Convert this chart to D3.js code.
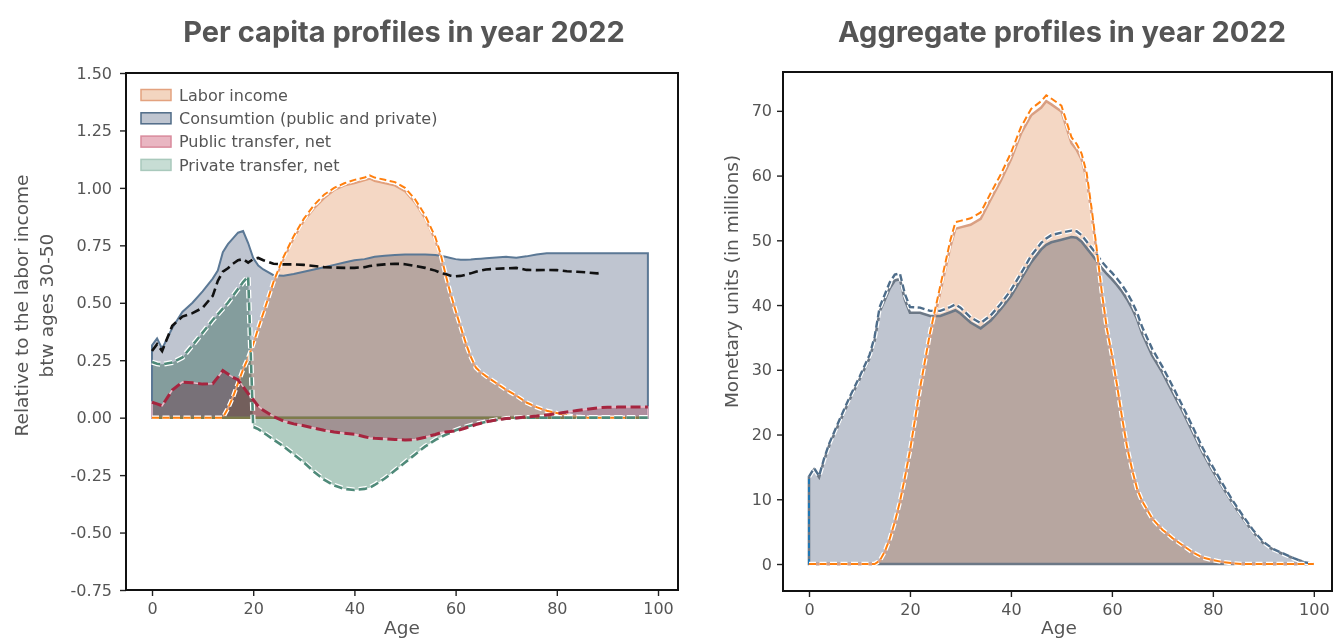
<!DOCTYPE html>
<html>
<head>
<meta charset="utf-8">
<script src="https://cdn.jsdelivr.net/npm/d3@7"></script>
<style>
  body { margin: 0; background: #fff; }
  svg { display: block; }
  .tick text { font-family: "DejaVu Sans", sans-serif; font-size: 16px; fill: #555; }
  .tick line { stroke: #222; stroke-width: 1.4; }
  .lbl { font-family: "DejaVu Sans", sans-serif; font-size: 18.5px; fill: #555; }
  .ttl { font-family: Inter, "DejaVu Sans", sans-serif; font-weight: 700; font-size: 29px; fill: #555; }
  .leg { font-family: "DejaVu Sans", sans-serif; font-size: 16px; fill: #555; }
  .fill { mix-blend-mode: multiply; }
</style>
</head>
<body>
<svg id="chart" width="1333" height="639"></svg>
<script>
// ---------- Per capita profiles (relative to labor income at ages 30-50) ----------
const agesPC = [0,1,2,4,6,8,10,12,13,14, 15,16,17,18,19,20,21,22, 24,26,28,30,32,34,36,38,40,42, 43,
  44,46,48,50,52,54,56, 57,58,59,60,61,62,63,64,65,66, 68,70,72,74,76,78,80,82,84,86,88, 89, 90,92,94,96,98];

const laborPC = [0,0,0,0,0,0,0,0,0,0, 0.04,0.09,0.15,0.21,0.26,0.32,0.39,0.45, 0.585,0.69,0.78,0.855,0.91,0.955,0.99,1.01,1.02,1.033, 1.04,
  1.03,1.02,1.01,0.985,0.935,0.865,0.77, 0.70,0.61,0.53,0.46,0.39,0.32,0.26,0.215,0.195,0.18, 0.15,0.12,0.095,0.065,0.045,0.03,0.02,0.01,0.004,0,0, 0, 0,0,0,0,0];

const laborPCAlt = [0,0,0,0,0,0,0,0,0,0, 0.04,0.09,0.15,0.21,0.26,0.32,0.39,0.455, 0.59,0.70,0.79,0.865,0.925,0.97,1.0,1.02,1.035,1.045, 1.055,
  1.045,1.035,1.025,1.0,0.95,0.88,0.785, 0.715,0.625,0.54,0.465,0.395,0.325,0.265,0.218,0.197,0.181, 0.151,0.121,0.096,0.066,0.046,0.03,0.02,0.01,0.004,0,0, 0, 0,0,0,0,0];

const consPC = [0.315,0.345,0.30,0.39,0.46,0.50,0.55,0.605,0.64,0.72, 0.755,0.78,0.805,0.812,0.76,0.695,0.662,0.645, 0.62,0.618,0.625,0.635,0.645,0.655,0.665,0.675,0.685,0.69, 0.695,
  0.70,0.705,0.708,0.71,0.71,0.71,0.708, 0.705,0.70,0.695,0.69,0.687,0.687,0.688,0.69,0.692,0.694, 0.697,0.70,0.696,0.702,0.71,0.716,0.716,0.716,0.716,0.716,0.716, 0.716, 0.716,0.716,0.716,0.716,0.716];

const consPCRef = [0.29,0.32,0.29,0.40,0.44,0.455,0.478,0.53,0.595,0.635, 0.65,0.67,0.685,0.69,0.675,0.69,0.695,0.685, 0.67,0.667,0.667,0.665,0.66,0.655,0.653,0.652,0.652,0.655, 0.66,
  0.663,0.667,0.67,0.668,0.66,0.652,0.64, 0.63,0.625,0.618,0.615,0.617,0.622,0.628,0.635,0.64,0.645, 0.648,0.65,0.652,0.643,0.642,0.643,0.642,0.637,0.635,0.632,0.628, 0.632, null,null,null,null,null];

const publicPC = [0.067,0.06,0.052,0.12,0.155,0.152,0.146,0.148,0.175,0.205, 0.19,0.175,0.165,0.135,0.105,0.078,0.05,0.032, 0.005,-0.015,-0.027,-0.035,-0.045,-0.055,-0.062,-0.068,-0.072,-0.083, -0.088,
  -0.09,-0.092,-0.095,-0.097,-0.095,-0.085,-0.073, -0.066,-0.062,-0.06,-0.058,-0.052,-0.045,-0.038,-0.03,-0.024,-0.018, -0.01,-0.004,-0.001,0.003,0.007,0.012,0.018,0.025,0.031,0.037,0.042, 0.044, 0.045,0.046,0.046,0.046,0.046];

const privatePC = [0.242,0.235,0.232,0.24,0.262,0.315,0.37,0.425,0.45,0.475, 0.50,0.53,0.56,0.59,0.615,-0.04,-0.05,-0.065, -0.095,-0.125,-0.16,-0.195,-0.235,-0.27,-0.295,-0.31,-0.315,-0.31, -0.305,
  -0.293,-0.265,-0.23,-0.195,-0.16,-0.125,-0.097, -0.085,-0.075,-0.065,-0.055,-0.047,-0.04,-0.034,-0.028,-0.023,-0.018, -0.01,-0.004,-0.001,0,0,0,0,0,0,0,0, 0, 0,0,0,0,0];

// ---------- Aggregate profiles (millions) ----------
const agesAgg = [0,1,2,3,4, 6,8,10,12, 13,14,15,16,17,18,19,20, 22,24,26,28, 29, 30,32,34,36,38,40,42,44,46, 47, 48,50,52,
  53,54,55,56,57,58,59,60,61,62,63,64,65,66, 68,70,72,74,76,78,80,82,84,86,88,90,92,94,96,98,100];

const consAgg = [13.5,14.6,13.4,16.0,18.3, 21.8,25.3,28.5,31.8, 34.5,39.0,40.8,42.6,43.8,44.0,40.8,38.8, 38.8,38.3,38.3,38.9, 39.2, 38.7,37.3,36.4,37.6,39.4,41.4,44.0,46.6,48.6, 49.3, 49.7,50.1,50.5,
  50.4,49.8,48.8,47.8,46.8,45.7,44.8,44.0,43.1,42.1,40.9,39.5,37.8,35.6, 32.2,29.6,26.6,23.6,20.4,17.2,14.4,11.8,9.3,7.0,4.9,3.2,2.2,1.5,0.9,0.3,0];

const consAggAlt = [13.5,14.8,13.6,16.3,18.6, 22.2,25.7,28.9,32.3, 35.1,39.7,41.6,43.5,44.7,44.9,41.7,39.7, 39.6,39.1,39.1,39.7, 40.1, 39.6,38.1,37.2,38.4,40.2,42.3,44.9,47.6,49.6, 50.3, 50.8,51.2,51.5,
  51.4,50.8,49.8,48.8,47.8,46.7,45.8,45.0,44.1,43.1,41.9,40.5,38.8,36.6, 33.2,30.5,27.5,24.4,21.2,17.9,15.0,12.3,9.7,7.4,5.2,3.4,2.3,1.6,0.9,0.3,0];

const laborAgg = [0,0,0,0,0, 0,0,0,0, 0,0.5,1.8,3.8,6.3,9.3,13.0,17.0, 26.5,35.0,42.0,49.0, 51.8, 52.0,52.4,53.3,56.3,59.2,62.5,66.5,69.3,70.5, 71.5, 71.0,69.9,65.0,
  64.0,62.5,59.5,54.0,48.0,41.5,36.0,32.0,27.5,22.5,18.0,14.5,11.5,9.6, 7.0,5.3,4.0,2.9,1.8,1.0,0.6,0.3,0.1,0,0,0,0,0,0,0,0];

const laborAggAlt = [0,0,0,0,0, 0,0,0,0, 0,0.5,1.9,3.9,6.5,9.6,13.4,17.5, 27.2,35.8,42.9,50.0, 52.8, 53.0,53.4,54.3,57.3,60.2,63.5,67.5,70.3,71.5, 72.4, 71.9,70.8,65.9,
  64.9,63.4,60.4,54.8,48.6,42.0,36.4,32.3,27.7,22.7,18.1,14.6,11.6,9.7, 7.0,5.3,4.0,2.9,1.8,1.0,0.6,0.3,0.1,0,0,0,0,0,0,0,0];

// ---------- ticks & labels ----------
const xTicks = [0, 20, 40, 60, 80, 100];
const yTicksPC = [-0.75, -0.5, -0.25, 0, 0.25, 0.5, 0.75, 1.0, 1.25, 1.5];
const yTicksAgg = [0, 10, 20, 30, 40, 50, 60, 70];
const legendLabels = ["Labor income", "Consumtion (public and private)", "Public transfer, net", "Private transfer, net"];
const titles = ["Per capita profiles in year 2022", "Aggregate profiles in year 2022"];
const yLabelPC = ["Relative to the labor income", "btw ages 30-50"];
const yLabelAgg = "Monetary units (in millions)";

const svg = d3.select("#chart");

function rows(ages, vals) {
  return ages.map((a, i) => ({ age: a, v: vals[i] }));
}

// fixed decimals with a plain hyphen for negatives
const fmt2 = v => v.toFixed(2);
const fmt0 = v => String(v);

function addAxes(g, x, y, box, yTicks, yFmt, yPad) {
  g.append("g")
    .attr("transform", `translate(0,${box.bottom})`)
    .call(d3.axisBottom(x).tickValues(xTicks).tickSize(6).tickPadding(7).tickFormat(fmt0))
    .call(s => s.select(".domain").remove());
  g.append("g")
    .attr("transform", `translate(${box.left},0)`)
    .call(d3.axisLeft(y).tickValues(yTicks).tickSize(6).tickPadding(yPad).tickFormat(yFmt))
    .call(s => s.select(".domain").remove());
  g.append("rect")
    .attr("x", box.left).attr("y", box.top)
    .attr("width", box.right - box.left).attr("height", box.bottom - box.top)
    .attr("fill", "none").attr("stroke", "#111").attr("stroke-width", 2);
}

function dashed(g, gen, data, color, width, dash, halo) {
  if (halo) {
    g.append("path").datum(data).attr("d", gen)
      .attr("fill", "none").attr("stroke", "#fff").attr("stroke-width", width + 2.5)
      .attr("stroke-dasharray", dash);
  }
  g.append("path").datum(data).attr("d", gen)
    .attr("fill", "none").attr("stroke", color).attr("stroke-width", width)
    .attr("stroke-dasharray", dash);
}

// ================= Left panel =================
{
  const box = { left: 126, right: 678, top: 73, bottom: 590 };
  const x = d3.scaleLinear().domain([-5.14, 103.95]).range([box.left, box.right]);
  const y = d3.scaleLinear().domain([-0.75, 1.5]).range([box.bottom, box.top]);
  const g = svg.append("g");

  const area = d3.area().defined(d => d.v != null).x(d => x(d.age)).y0(y(0)).y1(d => y(d.v));
  const line = d3.line().defined(d => d.v != null).x(d => x(d.age)).y(d => y(d.v));

  const dCons = rows(agesPC, consPC);
  const dLab = rows(agesPC, laborPC);
  const dLabAlt = rows(agesPC, laborPCAlt);
  const dRef = rows(agesPC, consPCRef);
  const dPub = rows(agesPC, publicPC);
  const dPriv = rows(agesPC, privatePC);

  const fills = g.append("g");
  fills.append("path").datum(dCons).attr("class", "fill").attr("d", area).attr("fill", "#bfc5d0");
  fills.append("path").datum(dLab).attr("class", "fill").attr("d", area).attr("fill", "#f4d7c4");
  fills.append("path").datum(dPub).attr("class", "fill").attr("d", area).attr("fill", "#e9b6c2");
  fills.append("path").datum(dPriv).attr("class", "fill").attr("d", area).attr("fill", "#b0ccc1");

  // area outlines
  g.append("path").datum(dCons).attr("d", area).attr("fill", "none").attr("stroke", "#5b7895").attr("stroke-width", 2);
  g.append("path").datum(dPub).attr("d", area).attr("fill", "none").attr("stroke", "#efb8c6").attr("stroke-width", 1.5);
  g.append("path").datum(dLab).attr("d", line).attr("fill", "none").attr("stroke", "#e2a07c").attr("stroke-width", 2);

  // zero baseline where the area edges overlap
  g.append("line").attr("x1", x(agesPC[0])).attr("x2", x(agesPC[agesPC.length - 1]))
    .attr("y1", y(0)).attr("y2", y(0)).attr("stroke", "#7e7b4a").attr("stroke-width", 2.5);

  dashed(g, line, dLabAlt, "#ff7f0e", 2, "7,3.5", true);
  dashed(g, line, dRef, "#111", 2.6, "9,4.5", false);
  dashed(g, line, dPriv, "#4f8a79", 2.6, "8.5,4", true);
  dashed(g, line, dPub, "#a6253f", 3, "10,4.5", false);

  addAxes(g, x, y, box, yTicksPC, fmt2, 8);

  g.append("text").attr("class", "ttl").attr("x", 404).attr("y", 42).attr("text-anchor", "middle").text(titles[0]);
  g.append("text").attr("class", "lbl").attr("x", 402).attr("y", 634).attr("text-anchor", "middle").text("Age");
  yLabelPC.forEach((t, i) => {
    g.append("text").attr("class", "lbl").attr("text-anchor", "middle")
      .attr("transform", `translate(${28 + i * 25},305.5) rotate(-90)`).text(t);
  });

  // legend
  const legFill = ["#f3d5c0", "#bfc5d0", "#e9b6c2", "#c7ddd4"];
  const legEdge = ["#e3a27f", "#4f6b87", "#d98a9c", "#a9c9bc"];
  const leg = g.append("g");
  legendLabels.forEach((t, i) => {
    const cy = 95 + i * 23.3;
    leg.append("rect").attr("x", 141).attr("y", cy - 5.5).attr("width", 30).attr("height", 11)
      .attr("fill", legFill[i]).attr("stroke", legEdge[i]).attr("stroke-width", 1.5);
    leg.append("text").attr("class", "leg").attr("x", 179).attr("y", cy + 5.8).text(t);
  });
}

// ================= Right panel =================
{
  const box = { left: 783, right: 1332, top: 72, bottom: 591 };
  const x = d3.scaleLinear().domain([-5.15, 103.6]).range([box.left, box.right]);
  const y = d3.scaleLinear().domain([-4.17, 76.0]).range([box.bottom, box.top]);
  const g = svg.append("g");

  const area = d3.area().x(d => x(d.age)).y0(y(0)).y1(d => y(d.v));
  const line = d3.line().x(d => x(d.age)).y(d => y(d.v));

  const dCons = rows(agesAgg, consAgg);
  const dConsAlt = rows(agesAgg, consAggAlt);
  const dLab = rows(agesAgg, laborAgg);
  const dLabAlt = rows(agesAgg, laborAggAlt);

  const fills = g.append("g");
  fills.append("path").datum(dCons).attr("class", "fill").attr("d", area).attr("fill", "#bfc5d0");
  fills.append("path").datum(dLab).attr("class", "fill").attr("d", area).attr("fill", "#f4d7c4");

  g.append("path").datum(dCons).attr("d", area).attr("fill", "none").attr("stroke", "#6c7886").attr("stroke-width", 2.6);
  g.append("path").datum(dLab).attr("d", line).attr("fill", "none").attr("stroke", "#d99f82").attr("stroke-width", 2.5);

  // left edge of the consumption profile at age 0
  g.append("line").attr("x1", x(agesAgg[0])).attr("x2", x(agesAgg[0]))
    .attr("y1", y(0)).attr("y2", y(consAgg[0]))
    .attr("stroke", "#1f77b4").attr("stroke-width", 2).attr("stroke-dasharray", "5,3");

  dashed(g, line, dConsAlt, "#4e6d8a", 2.4, "7,3.5", true);
  dashed(g, line, dLabAlt, "#ff7f0e", 2, "7,3.5", true);

  addAxes(g, x, y, box, yTicksAgg, fmt0, 5);

  g.append("text").attr("class", "ttl").attr("x", 1062).attr("y", 42).attr("text-anchor", "middle").text(titles[1]);
  g.append("text").attr("class", "lbl").attr("x", 1059).attr("y", 634).attr("text-anchor", "middle").text("Age");
  g.append("text").attr("class", "lbl").attr("text-anchor", "middle")
    .attr("transform", "translate(738,281.5) rotate(-90)").text(yLabelAgg);
}
</script>
</body>
</html>
